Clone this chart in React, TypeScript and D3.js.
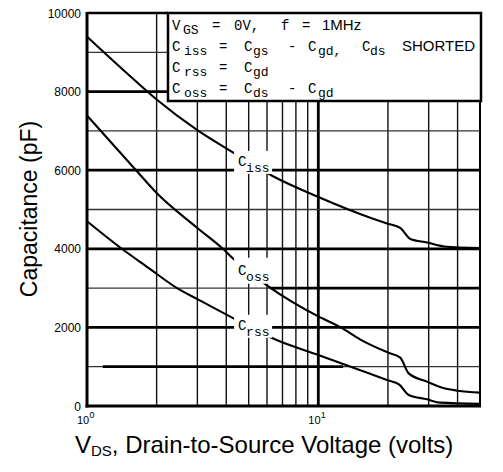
import React from "react";
import * as d3 from "d3";

// ---- data ----
const vIss = [1, 1.5, 2, 3, 4.4, 6.4, 10, 17, 20, 22.6, 25, 29.5, 35, 50];
const cIss = [9400, 8450, 7800, 7020, 6410, 5840, 5320, 4780, 4640, 4530, 4250, 4160, 4060, 4020];
const vOss = [1, 1.6, 2, 3, 3.9, 4.3, 6.1, 10, 12.5, 15.2, 20, 22.6, 24.6, 29.5, 35, 40, 50];
const cOss = [7390, 6050, 5420, 4530, 3980, 3740, 3040, 2280, 2000, 1690, 1360, 1230, 830, 620, 450, 390, 340];
const vRss = [1, 1.4, 1.85, 2.45, 3, 4.3, 6.6, 10, 13.8, 19.8, 22.4, 24.6, 29.5, 33.7, 50];
const cRss = [4700, 4020, 3510, 3000, 2720, 2230, 1680, 1300, 1000, 660, 545, 280, 170, 85, 55];

const seriesNames = ["iss", "oss", "rss"];
const labelV = [4.5, 4.5, 4.5];
const labelC = [6110, 3340, 1940];

const yTicks = [0, 2000, 4000, 6000, 8000, 10000];
const yMinor = [1000, 3000, 5000, 7000, 9000];
const xTicks = [1, 10];
const xTickExp = ["0", "1"];
const xMinor = [2, 3, 4, 5, 6, 7, 8, 9, 20, 30, 40];

const W = 503;
const H = 472;
const mono = "'Liberation Mono', 'DejaVu Sans Mono', monospace";
const sans = "'Liberation Sans', Arial, sans-serif";

export default function App() {
  const x = d3.scaleLog().domain([1, 50]).range([87, 480]);
  const y = d3.scaleLinear().domain([0, 10000]).range([406, 13]);
  const line = d3
    .line<[number, number]>()
    .x((d) => x(d[0]))
    .y((d) => y(d[1]))
    .curve(d3.curveMonotoneX);

  const series = [
    vIss.map((v, i) => [v, cIss[i]] as [number, number]),
    vOss.map((v, i) => [v, cOss[i]] as [number, number]),
    vRss.map((v, i) => [v, cRss[i]] as [number, number]),
  ];

  const x0 = x(1);
  const x1 = x(50);
  const boxL = 168;
  const boxB = 101;

  // partial thick sections of minor lines (scan look)
  const thickParts: [number, number, number][] = [
    [1000, 1.17, 12.8],
    [3000, 6.2, 50],
  ];

  return (
    <svg
      width={W}
      height={H}
      style={{ position: "absolute", left: 0, top: 0, background: "#fff" }}
    >
      <rect x={0} y={0} width={W} height={H} fill="#fff" />
      {/* vertical grid */}
      {xMinor.map((v) => (
        <line key={"vx" + v} x1={x(v)} x2={x(v)} y1={y(10000)} y2={y(0)} stroke="#111" strokeWidth={1.4} />
      ))}
      <line x1={x(10)} x2={x(10)} y1={y(10000)} y2={y(0)} stroke="#000" strokeWidth={2.8} />
      {/* horizontal grid */}
      {yMinor.map((c) => (
        <line key={"hm" + c} x1={x0} x2={x1} y1={y(c)} y2={y(c)} stroke="#333" strokeWidth={1.3} />
      ))}
      {thickParts.map(([c, a, b]) => (
        <line key={"tp" + c} x1={x(a)} x2={x(b)} y1={y(c)} y2={y(c)} stroke="#000" strokeWidth={2.8} />
      ))}
      {yTicks.filter((c) => c > 0 && c < 10000).map((c) => (
        <line key={"hM" + c} x1={x0} x2={x1} y1={y(c)} y2={y(c)} stroke="#000" strokeWidth={2.8} />
      ))}
      {/* frame */}
      <line x1={x0} x2={x0} y1={y(10000) - 1} y2={y(0) + 1.5} stroke="#000" strokeWidth={3} />
      <line x1={x0 - 1.5} x2={x1 + 1} y1={y(0)} y2={y(0)} stroke="#000" strokeWidth={3} />
      <line x1={x0} x2={boxL} y1={y(10000)} y2={y(10000)} stroke="#000" strokeWidth={2.5} />
      <line x1={x1} x2={x1} y1={y(10000)} y2={y(0)} stroke="#000" strokeWidth={2} />

      {/* curves */}
      {series.map((s, i) => (
        <path key={"s" + i} d={line(s) || ""} fill="none" stroke="#000" strokeWidth={2.1} />
      ))}

      {/* curve labels */}
      {seriesNames.map((n, i) => {
        const lx = x(labelV[i]);
        const ly = y(labelC[i]);
        return (
          <g key={"lab" + n}>
            <rect x={lx - 4} y={ly - (i === 1 ? 17 : 15)} width={38} height={i === 1 ? 26 : 23} fill="#fff" />
            <text x={lx} y={ly} fontFamily={mono} fontSize={14} fill="#000">C</text>
            <text x={lx + 8} y={ly + 6} fontFamily={mono} fontSize={13} fill="#000">{n}</text>
          </g>
        );
      })}

      {/* legend box */}
      <rect x={boxL} y={y(10000)} width={x1 + 1 - boxL} height={boxB - y(10000)} fill="#fff" stroke="#000" strokeWidth={2.5} />
      <g fontFamily={mono} fill="#000">
        <text x={172} y={30} fontSize={14}>V</text>
        <text x={183} y={34} fontSize={13}>GS</text>
        <text x={212} y={30} fontSize={14}>=</text>
        <text x={234} y={30} fontSize={14}>0V,</text>
        <text x={281} y={30} fontSize={14}>f</text>
        <text x={302} y={30} fontSize={14}>=</text>
        <text x={322} y={30} fontSize={15} fontFamily={sans}>1MHz</text>

        <text x={172} y={51} fontSize={14}>C</text>
        <text x={184} y={55} fontSize={13}>iss</text>
        <text x={219} y={51} fontSize={14}>=</text>
        <text x={244} y={51} fontSize={14}>C</text>
        <text x={253} y={55} fontSize={13}>gs</text>
        <text x={288} y={51} fontSize={14}>-</text>
        <text x={308} y={51} fontSize={14}>C</text>
        <text x={318} y={55} fontSize={13}>gd,</text>
        <text x={362} y={51} fontSize={14}>C</text>
        <text x={370} y={55} fontSize={13}>ds</text>
        <text x={402} y={51} fontSize={15} fontFamily={sans}>SHORTED</text>

        <text x={172} y={72} fontSize={14}>C</text>
        <text x={184} y={76} fontSize={13}>rss</text>
        <text x={219} y={72} fontSize={14}>=</text>
        <text x={244} y={72} fontSize={14}>C</text>
        <text x={253} y={76} fontSize={13}>gd</text>

        <text x={172} y={93} fontSize={14}>C</text>
        <text x={184} y={97} fontSize={13}>oss</text>
        <text x={219} y={93} fontSize={14}>=</text>
        <text x={244} y={93} fontSize={14}>C</text>
        <text x={253} y={97} fontSize={13}>ds</text>
        <text x={288} y={93} fontSize={14}>-</text>
        <text x={308} y={93} fontSize={14}>C</text>
        <text x={318} y={97} fontSize={13}>gd</text>
      </g>

      {/* y tick labels */}
      {yTicks.map((c) => (
        <text key={"yt" + c} x={81} y={y(c) + 4.5} textAnchor="end" fontFamily={sans} fontSize={12} fill="#000">
          {c}
        </text>
      ))}
      {/* x tick labels */}
      {xTicks.map((v, i) => (
        <g key={"xt" + v}>
          <text x={x(v) - 10} y={424} fontFamily={sans} fontSize={11} fill="#000">10</text>
          <text x={x(v) + 2.5} y={418} fontFamily={sans} fontSize={9} fill="#000">{xTickExp[i]}</text>
        </g>
      ))}

      {/* axis titles */}
      <text transform="translate(37,209) rotate(-90)" textAnchor="middle" fontFamily={sans} fontSize={23} fill="#000">
        Capacitance (pF)
      </text>
      <text x={75} y={453} fontFamily={sans} fontSize={24} fill="#000">
        V<tspan fontSize={15} dy={3}>DS</tspan>
        <tspan dy={-3}>, Drain-to-Source Voltage (volts)</tspan>
      </text>
    </svg>
  );
}
